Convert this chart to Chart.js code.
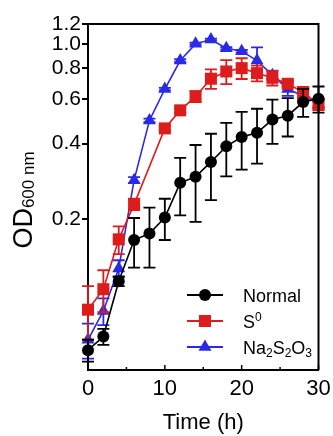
<!DOCTYPE html>
<html>
<head>
<meta charset="utf-8">
<script src="https://cdn.jsdelivr.net/npm/chart.js@4.4.1/dist/chart.umd.min.js"></script>
<style>
  html, body { margin: 0; padding: 0; background: #fff; }
</style>
</head>
<body>
<canvas id="growth" width="333" height="436"></canvas>
<script>
const FONT = "'Liberation Sans', Arial, Helvetica, sans-serif";

// sampling times (h)
const timeH = [0, 2, 4, 6, 8, 10, 12, 14, 16, 18, 20, 22, 24, 26, 28, 30];

// OD600 means and SD
const normalOD = [0.060, 0.068, 0.113, 0.165, 0.175, 0.203, 0.279, 0.295, 0.338, 0.390, 0.425, 0.442, 0.499, 0.517, 0.586, 0.604];
const normalSD = [0.006, 0.005, 0.005, 0.037, 0.047, 0.038, 0.072, 0.100, 0.100, 0.094, 0.110, 0.109, 0.100, 0.090, 0.075, 0.072];

const s0OD = [0.087, 0.105, 0.166, 0.229, null, 0.460, 0.543, 0.617, 0.726, 0.776, 0.800, 0.764, 0.732, 0.693, 0.642, 0.574];
const s0SD = [0.021, 0.020, 0.021, 0.012, null, 0.010, 0.012, 0.031, 0.065, 0.085, 0.076, 0.055, 0.050, 0.020, 0.032, 0.030];

const naOD = [0.066, 0.086, 0.127, 0.286, 0.495, 0.660, 0.858, 1.000, 1.040, 0.960, 0.935, 0.858, 0.750, 0.660, 0.620, 0.575];
const naSD = [0.0105, 0.0105, 0.010, 0.008, 0.008, 0.008, 0.010, 0.010, 0.010, 0.010, 0.010, 0.110, 0.030, 0.040, 0.030, 0.020];

const yTicks = [0.2, 0.4, 0.6, 0.8, 1.0, 1.2];
const xTicks = [0, 10, 20, 30];
const xMinorTicks = [5, 15, 25];

// legend labels as [text, "sub"|"sup"|undefined] runs
const series = [
  { label: "Normal", runs: [["Normal"]], od: normalOD, sd: normalSD, color: "#000000", style: "circle", radius: 6 },
  { label: "S0", runs: [["S"], ["0", "sup"]], od: s0OD, sd: s0SD, color: "#dd1c1c", style: "rect", radius: 8.5 },
  { label: "Na2S2O3", runs: [["Na"], ["2", "sub"], ["S"], ["2", "sub"], ["O"], ["3", "sub"]], od: naOD, sd: naSD, color: "#2a2ae6", style: "triangle", radius: 7.5 },
];

function drawMarker(ctx, style, x, y, r) {
  ctx.beginPath();
  if (style === "circle") {
    ctx.arc(x, y, r, 0, Math.PI * 2);
  } else if (style === "rect") {
    const s = Math.SQRT1_2 * r;
    ctx.rect(x - s, y - s, 2 * s, 2 * s);
  } else {
    ctx.moveTo(x, y - r);
    ctx.lineTo(x + Math.sin(2 * Math.PI / 3) * r, y - Math.cos(2 * Math.PI / 3) * r);
    ctx.lineTo(x + Math.sin(4 * Math.PI / 3) * r, y - Math.cos(4 * Math.PI / 3) * r);
    ctx.closePath();
  }
  ctx.fill();
}

/** Draws a run list (plain / sub / sup) starting at x, baseline y. */
function drawRuns(ctx, runs, x, y, size) {
  runs.forEach(([text, mode]) => {
    const fs = mode ? Math.round(size * 0.68) : size;
    const dy = mode === "sub" ? size * 0.22 : mode === "sup" ? -size * 0.38 : 0;
    ctx.font = `${fs}px ${FONT}`;
    ctx.fillText(text, x, y + dy);
    x += ctx.measureText(text).width;
  });
}

const errorBars = {
  id: "errorBars",
  beforeDatasetDraw(chart, args) {
    const s = series[args.index];
    const { ctx, scales: { x, y } } = chart;
    ctx.save();
    ctx.strokeStyle = s.color;
    ctx.lineWidth = 1.8;
    timeH.forEach((t, i) => {
      const m = s.od[i];
      const e = s.sd[i];
      if (m == null || !e) return;
      const px = x.getPixelForValue(t);
      const top = y.getPixelForValue(m + e);
      const bot = y.getPixelForValue(m - e);
      ctx.beginPath();
      ctx.moveTo(px, top); ctx.lineTo(px, bot);
      ctx.moveTo(px - 6, top); ctx.lineTo(px + 6, top);
      ctx.moveTo(px - 6, bot); ctx.lineTo(px + 6, bot);
      ctx.stroke();
    });
    ctx.restore();
  },
};

const frame = {
  id: "frame",
  afterDraw(chart) {
    const { ctx, chartArea: a, scales: { x } } = chart;
    ctx.save();
    ctx.strokeStyle = "#000";
    ctx.lineWidth = 2;
    ctx.beginPath();
    ctx.moveTo(a.left, a.top); ctx.lineTo(a.right, a.top); ctx.lineTo(a.right, a.bottom);
    ctx.stroke();
    // inward x ticks
    ctx.lineWidth = 1.5;
    ctx.beginPath();
    xTicks.concat(xMinorTicks).forEach((v) => {
      const px = x.getPixelForValue(v);
      const len = xTicks.includes(v) ? 5 : 3;
      ctx.moveTo(px, a.bottom); ctx.lineTo(px, a.bottom - len);
    });
    ctx.stroke();

    // y title with subscript
    ctx.fillStyle = "#000";
    ctx.translate(32, 200);
    ctx.rotate(-Math.PI / 2);
    ctx.textBaseline = "alphabetic";
    ctx.font = `27px ${FONT}`;
    const w1 = ctx.measureText("OD").width;
    ctx.font = `17px ${FONT}`;
    const w2 = ctx.measureText("600 nm").width;
    const x0 = -(w1 + w2) / 2;
    ctx.font = `27px ${FONT}`;
    ctx.fillText("OD", x0, 0);
    ctx.font = `17px ${FONT}`;
    ctx.fillText("600 nm", x0 + w1, 2);
    ctx.restore();

    // legend
    ctx.save();
    ctx.textBaseline = "alphabetic";
    series.forEach((s, i) => {
      const ry = 295 + i * 26;
      ctx.strokeStyle = s.color;
      ctx.fillStyle = s.color;
      ctx.lineWidth = 1.8;
      ctx.beginPath();
      ctx.moveTo(187, ry); ctx.lineTo(223, ry);
      ctx.stroke();
      drawMarker(ctx, s.style, 205, ry, s.radius);
      ctx.fillStyle = "#000";
      drawRuns(ctx, s.runs, 243, ry + 6.5, 18);
    });
    ctx.restore();
  },
};

new Chart(document.getElementById("growth"), {
  type: "line",
  data: {
    datasets: series.map((s) => ({
      label: s.label,
      data: timeH.map((t, i) => ({ x: t, y: s.od[i] })),
      borderColor: s.color,
      backgroundColor: s.color,
      borderWidth: 1.6,
      pointStyle: s.style,
      pointRadius: s.radius,
      pointBackgroundColor: s.color,
      pointBorderColor: s.color,
      pointBorderWidth: 0,
      spanGaps: true,
      clip: false,
      tension: 0,
    })),
  },
  options: {
    responsive: false,
    animation: false,
    devicePixelRatio: 1,
    layout: { padding: { top: 24, right: 14.5, left: 0, bottom: 0 } },
    plugins: { legend: { display: false }, tooltip: { enabled: false } },
    scales: {
      x: {
        type: "linear",
        min: 0,
        max: 30,
        afterBuildTicks: (s) => { s.ticks = xTicks.map((v) => ({ value: v })); },
        afterFit: (s) => { s.height = 66; },
        grid: { display: false },
        border: { color: "#000", width: 2 },
        ticks: { color: "#000", font: { family: FONT, size: 22 }, padding: -2, maxRotation: 0 },
        title: {
          display: true,
          text: "Time (h)",
          color: "#000",
          font: { family: FONT, size: 22 },
          padding: { top: 0, bottom: 0 },
        },
      },
      y: {
        type: "logarithmic",
        min: 0.05,
        max: 1.2,
        afterBuildTicks: (s) => { s.ticks = yTicks.map((v) => ({ value: v })); },
        afterFit: (s) => { s.width = 88; },
        grid: { drawOnChartArea: false, drawTicks: true, tickLength: 6, color: "#000", lineWidth: 2 },
        border: { color: "#000", width: 2 },
        ticks: {
          color: "#000",
          font: { family: FONT, size: 21 },
          padding: 1,
          callback: (v) => Number(v).toFixed(1),
        },
      },
    },
  },
  plugins: [errorBars, frame],
});
</script>
</body>
</html>
